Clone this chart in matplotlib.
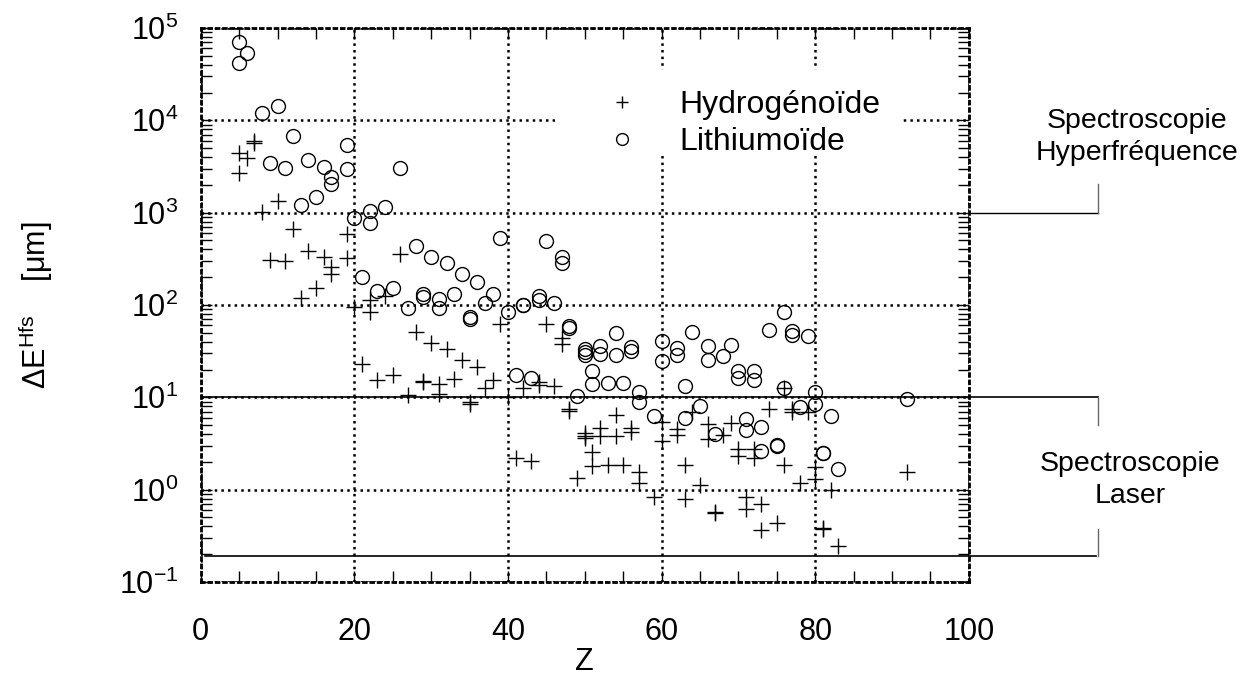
import matplotlib
matplotlib.use('Agg')
import matplotlib.pyplot as plt
from matplotlib.ticker import MultipleLocator, LogLocator, NullFormatter
from matplotlib.patches import Rectangle

plt.rcParams['font.family'] = ['Liberation Sans', 'DejaVu Sans']
plt.rcParams['mathtext.fontset'] = 'custom'
plt.rcParams['mathtext.rm'] = 'Liberation Sans'
plt.rcParams['mathtext.it'] = 'Liberation Sans:italic'
plt.rcParams['mathtext.bf'] = 'Liberation Sans:bold'
plt.rcParams['axes.unicode_minus'] = False

# hydrogen-like ions (+)
hydro_z = [5, 5, 6, 7, 7, 8, 9, 10, 11, 12, 13, 14, 15, 16, 17, 17, 19, 19, 20,
           21, 22, 22, 23, 24, 25, 26, 27, 28, 29, 29, 30, 31, 31, 32, 33, 34,
           35, 35, 36, 37, 38, 39, 40, 41, 42, 43, 44, 44, 45, 46, 47, 47, 48, 48,
           49, 50, 50, 50, 51, 51, 52, 52, 53, 54, 54, 55, 56, 56, 57, 57, 59,
           60, 60, 62, 62, 63, 63, 64, 65, 66, 66, 67, 67, 68, 69, 70, 70, 71, 71,
           72, 72, 73, 73, 74, 75, 76, 76, 77, 77, 78, 79, 80, 80, 81, 81, 82, 83, 92]
hydro_e = [4460, 2690, 3870, 6010, 5750, 1010, 304, 1346, 299, 659, 120, 384, 151, 328, 255, 216, 586, 320, 96,
           22.7, 113, 83, 15.3, 126, 17.4, 353, 10.7, 50.5, 15.1, 14.5, 38.4, 13.8, 10.8, 33.6, 15.7, 25.3,
           8.9, 8.4, 21.1, 12.5, 15.5, 63, 10.1, 2.18, 12.5, 2.05, 14.5, 13.6, 61.7, 13.3, 44.2, 37.7, 7.45, 7.14,
           1.34, 4.06, 3.80, 3.59, 2.53, 1.80, 4.61, 3.80, 1.84, 6.4, 3.78, 1.87, 4.61, 4.24, 1.56, 1.17, 0.836,
           5.43, 3.36, 4.56, 3.86, 1.84, 0.80, 6.97, 1.12, 5.13, 3.5, 0.56, 0.57, 3.89, 5.21, 2.77, 2.31, 0.836, 0.625,
           2.77, 2.18, 0.70, 0.37, 7.5, 0.44, 12.5, 1.84, 7.5, 6.97, 1.19, 6.97, 1.74, 1.29, 0.376, 0.38, 0.99, 0.244, 1.56]

# lithium-like ions (o)
lithium_z = [5, 5, 6, 8, 9, 10, 11, 12, 13, 14, 15, 16, 17, 17, 19, 19, 20, 21, 22, 22,
             23, 24, 25, 26, 27, 28, 29, 29, 30, 31, 31, 32, 33, 34, 35, 35, 36, 37, 38,
             39, 40, 41, 42, 42, 43, 44, 44, 45, 46, 47, 47, 48, 48, 49, 50, 50, 50,
             51, 51, 52, 52, 53, 54, 54, 55, 56, 56, 57, 57, 59, 60, 60, 62, 62, 63, 63,
             64, 65, 66, 66, 67, 68, 69, 70, 70, 71, 71, 72, 72, 73, 73, 74, 75, 75,
             76, 76, 77, 77, 78, 79, 80, 80, 81, 81, 82, 83, 92]
lithium_e = [71000, 42000, 53000, 11900, 3420, 14200, 3070, 6700, 1210, 3710, 1470, 3140, 2410, 2030, 5360, 2940, 867, 202, 1030, 766,
             142, 1140, 151, 3070, 93, 435, 130, 121, 333, 116, 92, 286, 131, 216, 74, 70, 176, 106, 130,
             531, 84, 17.6, 101, 100, 16.3, 125, 113, 497, 106, 333, 286, 59, 55.7, 10.4, 33.3, 30.6, 28.6,
             19.1, 13.9, 35.6, 29.4, 14.3, 49.2, 28.6, 14.3, 35.2, 31.6, 11.4, 9.0, 6.25, 40.3, 24.5, 34.4, 28.6, 13.4, 5.95,
             51.3, 8.09, 35.6, 25.5, 3.99, 27.9, 36.5, 19.5, 16.1, 5.85, 4.42, 19.5, 15.5, 4.79, 2.59, 53, 3.0, 3.05,
             84.5, 12.5, 52, 47.2, 7.9, 46, 11.4, 8.43, 2.47, 2.5, 6.3, 1.66, 9.5]

fig = plt.figure(figsize=(12.49, 6.75), dpi=100)
ax = fig.add_axes([0.1607, 0.1378, 0.615, 0.8207])

ax.plot(hydro_z, hydro_e, '+', color='black', markersize=11, markeredgewidth=1.0,
        label='Hydrogénoïde')
ax.plot(lithium_z, lithium_e, 'o', markerfacecolor='none', markeredgecolor='black',
        markersize=10, markeredgewidth=1.0, label='Lithiumoïde')

ax.set_yscale('log')
ax.set_xlim(0, 100)
ax.set_ylim(0.1, 1e5)
ax.set_xticks(range(0, 101, 20))
ax.xaxis.set_minor_locator(MultipleLocator(5))
ax.yaxis.set_minor_locator(LogLocator(base=10, subs=range(2, 10)))
ax.yaxis.set_minor_formatter(NullFormatter())
ax.tick_params(which='both', direction='in', top=True, right=True, labelsize=22)
ax.tick_params(which='major', length=8, width=1)
ax.tick_params(which='minor', length=8, width=1)
ax.tick_params(axis='x', pad=25)
ax.tick_params(axis='y', pad=16)
ax.grid(True, which='major', linestyle=':', color='black', linewidth=1.8)
for sp in ax.spines.values():
    sp.set_linestyle(':')
    sp.set_linewidth(2)

ax.set_xlabel('Z', fontsize=22, labelpad=0)
ax.set_ylabel('ΔE$^{\\rm Hfs}$    [μm]', fontsize=22, labelpad=46)

# brackets for the two spectroscopy ranges
ax.plot([100, 116.8], [1000, 1000], color='black', lw=1, clip_on=False)
ax.plot([116.8, 116.8], [1000, 2040], color='0.4', lw=1, clip_on=False)
ax.plot([0, 116.8], [10, 10], color='black', lw=1.2, clip_on=False)
ax.plot([116.8, 116.8], [10, 5.0], color='0.4', lw=1, clip_on=False)
ax.plot([0.6, 116.5], [0.19, 0.19], color='black', lw=1.2, clip_on=False)
ax.plot([116.8, 116.8], [0.19, 0.373], color='0.4', lw=1, clip_on=False)

ax.text(121.9, 6590, 'Spectroscopie\nHyperfréquence', ha='center', va='center',
        fontsize=20.5, linespacing=1.3)
ax.text(121.0, 1.27, 'Spectroscopie\nLaser', ha='center', va='center',
        fontsize=20.5, linespacing=1.3)

# white box behind the legend hides the grid there
ax.add_patch(Rectangle((0.461, 0.771), 0.452, 0.153, transform=ax.transAxes,
                       facecolor='white', edgecolor='none', zorder=1.8))
ax.legend(loc='center left', bbox_to_anchor=(0.5277, 0.827), fontsize=23,
          frameon=False, borderpad=0, borderaxespad=0, handlelength=1.0,
          handletextpad=1.29, labelspacing=0.22, markerscale=0.85)

plt.savefig('out.png', dpi=100)
